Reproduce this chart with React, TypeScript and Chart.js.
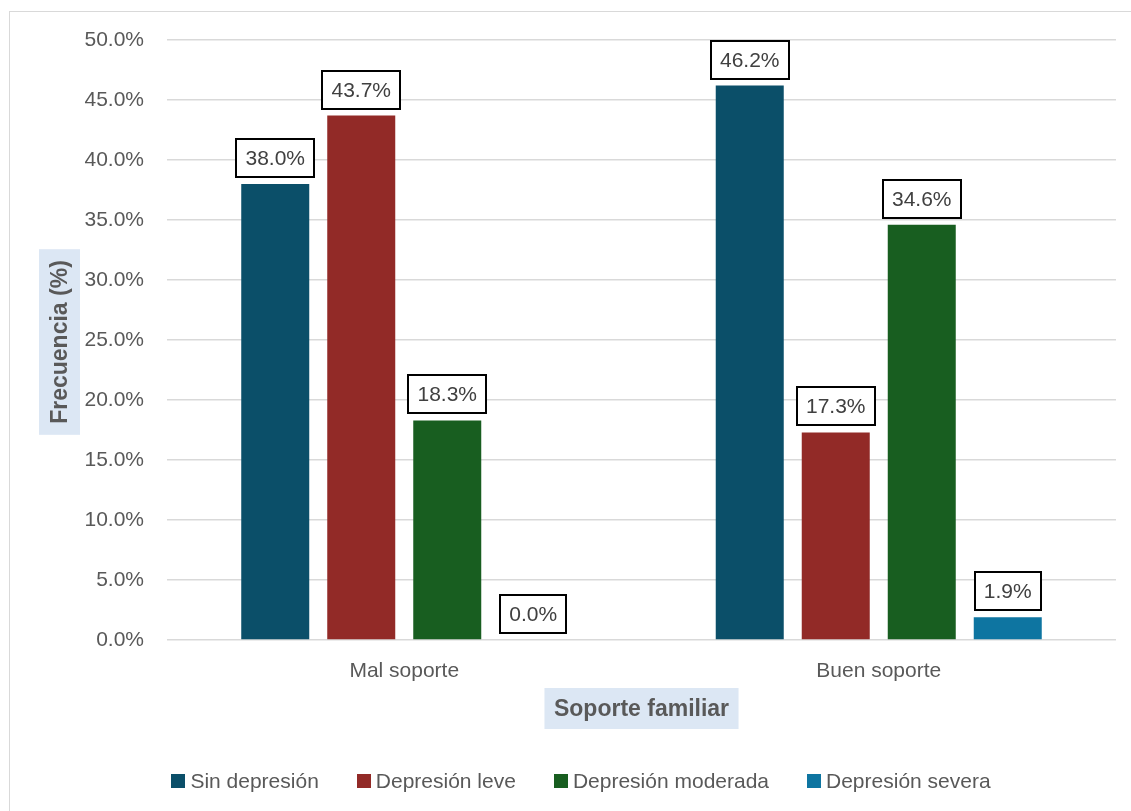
import React, { useEffect, useRef } from 'react';
import { Chart, registerables } from 'chart.js';

Chart.register(...registerables);

const categories = ['Mal soporte', 'Buen soporte'];
const seriesNames = ['Sin depresión', 'Depresión leve', 'Depresión moderada', 'Depresión severa'];
const sinDepresion = [38.0, 46.2];
const depresionLeve = [43.7, 17.3];
const depresionModerada = [18.3, 34.6];
const depresionSevera = [0.0, 1.9];
const seriesColors = ['#0B4F69', '#922A27', '#185E20', '#0E75A1'];
const yMin = 0;
const yMax = 50;
const yStep = 5;
const yTitle = 'Frecuencia (%)';
const xTitle = 'Soporte familiar';

const FONT = "'Liberation Sans', Arial, sans-serif";
const TEXT_COLOR = '#595959';
const TITLE_BG = '#DCE7F4';

const overlayPlugin = {
  id: 'overlay',
  afterDatasetsDraw(chart: any) {
    const ctx = chart.ctx;
    ctx.save();
    ctx.font = `21px ${FONT}`;
    chart.data.datasets.forEach((ds: any, di: number) => {
      const meta = chart.getDatasetMeta(di);
      meta.data.forEach((el: any, i: number) => {
        const v = ds.data[i] as number;
        const text = v.toFixed(1) + '%';
        const tw = ctx.measureText(text).width;
        const w = Math.round(tw + 18);
        const h = 38;
        const x = Math.round(el.x - w / 2);
        const y = Math.round(el.y - 7 - h);
        ctx.fillStyle = '#ffffff';
        ctx.fillRect(x, y, w, h);
        ctx.strokeStyle = '#000000';
        ctx.lineWidth = 2;
        ctx.strokeRect(x, y, w, h);
        ctx.fillStyle = '#404040';
        ctx.textAlign = 'center';
        ctx.textBaseline = 'middle';
        ctx.fillText(text, el.x, y + h / 2 + 1);
      });
    });
    ctx.restore();
  },
  afterDraw(chart: any) {
    const ctx = chart.ctx;
    const area = chart.chartArea;
    ctx.save();
    ctx.font = `bold 23px ${FONT}`;
    ctx.textAlign = 'center';
    ctx.textBaseline = 'middle';
    // X title
    const xw = ctx.measureText(xTitle).width + 19;
    const xcx = (area.left + area.right) / 2;
    const xcy = 708.5;
    ctx.fillStyle = TITLE_BG;
    ctx.fillRect(xcx - xw / 2, xcy - 20.5, xw, 41);
    ctx.fillStyle = TEXT_COLOR;
    ctx.fillText(xTitle, xcx, xcy + 1);
    // Y title
    const yw = ctx.measureText(yTitle).width + 22;
    const ycx = 59.5;
    const ycy = (area.top + area.bottom) / 2 + 2;
    ctx.translate(ycx, ycy);
    ctx.rotate(-Math.PI / 2);
    ctx.fillStyle = TITLE_BG;
    ctx.fillRect(-yw / 2, -20.5, yw, 41);
    ctx.fillStyle = TEXT_COLOR;
    ctx.fillText(yTitle, 0, 1);
    ctx.setTransform(1, 0, 0, 1, 0, 0);

    // Legend
    ctx.font = `21px ${FONT}`;
    ctx.textAlign = 'left';
    const box = 14;
    const gap = 5;
    const spacing = 38;
    const widths = seriesNames.map((n) => box + gap + ctx.measureText(n).width);
    const total = widths.reduce((a, b) => a + b, 0) + spacing * (seriesNames.length - 1);
    let x = 581 - total / 2;
    const cy = 781;
    seriesNames.forEach((n, i) => {
      ctx.fillStyle = seriesColors[i];
      ctx.fillRect(Math.round(x), cy - box / 2, box, box);
      ctx.fillStyle = TEXT_COLOR;
      ctx.fillText(n, x + box + gap, cy + 1);
      x += widths[i] + spacing;
    });
    ctx.restore();
  },
};

export default function App() {
  const canvasRef = useRef<HTMLCanvasElement | null>(null);

  useEffect(() => {
    const canvas = canvasRef.current;
    if (!canvas) return;
    const seriesData = [sinDepresion, depresionLeve, depresionModerada, depresionSevera];
    const chart = new Chart(canvas, {
      type: 'bar',
      data: {
        labels: categories,
        datasets: seriesNames.map((name, i) => ({
          label: name,
          data: seriesData[i],
          backgroundColor: seriesColors[i],
          borderWidth: 0,
          categoryPercentage: 0.725,
          barPercentage: 0.7907,
        })),
      },
      options: {
        responsive: false,
        animation: false,
        devicePixelRatio: 1,
        layout: { padding: { left: 0, right: 15, top: 40, bottom: 0 } },
        plugins: {
          legend: { display: false },
          tooltip: { enabled: false },
          title: { display: false },
        },
        scales: {
          x: {
            grid: { display: false, drawTicks: false },
            border: { display: false },
            ticks: {
              color: TEXT_COLOR,
              font: { family: FONT, size: 21 },
              padding: 19,
            },
            afterFit(scale: any) {
              scale.height = 171;
            },
          },
          y: {
            min: yMin,
            max: yMax,
            grid: { color: '#D9D9D9', lineWidth: 1.5, drawTicks: false },
            border: { display: false },
            ticks: {
              stepSize: yStep,
              color: TEXT_COLOR,
              font: { family: FONT, size: 21 },
              padding: 23,
              callback: (v: any) => Number(v).toFixed(1) + '%',
            },
            afterFit(scale: any) {
              scale.width = 167;
            },
          },
        },
      },
      plugins: [overlayPlugin],
    });
    return () => chart.destroy();
  }, []);

  return (
    <div
      style={{
        position: 'fixed',
        left: 0,
        top: 0,
        width: 1131,
        height: 811,
        background: '#ffffff',
        overflow: 'hidden',
      }}
    >
      <div
        style={{
          position: 'absolute',
          left: 9,
          top: 11,
          width: 1200,
          height: 900,
          border: '1.5px solid #D9D9D9',
          boxSizing: 'border-box',
        }}
      />
      <canvas
        ref={canvasRef}
        width={1131}
        height={811}
        style={{ position: 'absolute', left: 0, top: 0, width: 1131, height: 811 }}
      />
    </div>
  );
}
